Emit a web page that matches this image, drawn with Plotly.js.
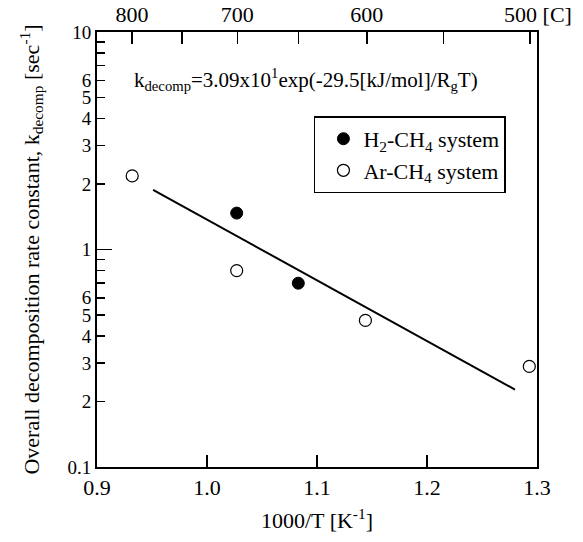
<!DOCTYPE html>
<html>
<head>
<meta charset="utf-8">
<script src="https://cdn.plot.ly/plotly-3.0.1.min.js"></script>
<style>html,body{margin:0;padding:0;background:#fff;}#plot{width:583px;height:542px;}</style>
</head>
<body>
<div id="plot"></div>
<script>
// Data
const h2X = [1.027, 1.083];
const h2Y = [1.47, 0.70];
const arX = [0.932, 1.027, 1.144, 1.293];
const arY = [2.18, 0.80, 0.472, 0.29];
const fitX = [0.951, 1.280];
const fitY = [1.88, 0.227];

const bottomTickVals = [0.9, 1.0, 1.1, 1.2, 1.3];
const bottomTickText = ['0.9', '1.0', '1.1', '1.2', '1.3'];
const leftTickVals = [0.1,0.2,0.3,0.4,0.5,0.6,0.7,0.8,0.9,1,2,3,4,5,6,7,8,9,10];
const leftTickText = ['0.1','2','3','4','5','6','','','','1','2','3','4','5','6','','','','10'];
const tempC = [800, 750, 700, 650, 600, 550, 500];
const tempText = ['800', '', '700', '', '600', '', '\u00A0\u00A0\u00A0500 [C]'];

const topTickVals = tempC.map(t => 1000 / (t + 273.15));

const FONT = 'Liberation Serif, Times New Roman, serif';

const traces = [
  {x: fitX, y: fitY, mode: 'lines', line: {color: '#000', width: 2}, showlegend: false, hoverinfo: 'skip'},
  {x: h2X, y: h2Y, mode: 'markers', name: 'H<sub>2</sub>-CH<sub>4</sub> system',
   marker: {symbol: 'circle', size: 12, color: '#000', line: {color: '#000', width: 1}}},
  {x: arX, y: arY, mode: 'markers', name: 'Ar-CH<sub>4</sub> system',
   marker: {symbol: 'circle-open', size: 12, color: '#000', line: {color: '#000', width: 1.2}}},
  {x: [], y: [], xaxis: 'x2', yaxis: 'y2', showlegend: false, hoverinfo: 'skip'}
];

const layout = {
  width: 583, height: 542,
  margin: {l: 97, r: 46, t: 32, b: 75},
  paper_bgcolor: '#fff', plot_bgcolor: '#fff',
  font: {family: FONT, size: 22, color: '#000'},
  showlegend: true,
  legend: {
    x: 0.493, y: 0.806, xanchor: 'left', yanchor: 'top',
    bordercolor: '#000', borderwidth: 1.5, bgcolor: '#fff',
    font: {family: FONT, size: 22, color: '#000'},
    indentation: 8,
    tracegroupgap: 0
  },
  xaxis: {
    range: [0.9, 1.3], showgrid: false, zeroline: false,
    showline: true, linecolor: '#000', linewidth: 2, mirror: true,
    ticks: 'inside', ticklen: 12, tickwidth: 1.5, tickcolor: '#000',
    tickmode: 'array', tickvals: bottomTickVals, ticktext: bottomTickText,
    tickfont: {family: FONT, size: 22},
    title: {text: '1000/T [K<sup>-1</sup>]', font: {family: FONT, size: 22}, standoff: 13}
  },
  xaxis2: {
    overlaying: 'x', side: 'top', range: [0.9, 1.3], showgrid: false, zeroline: false,
    showline: true, linecolor: '#000', linewidth: 1.5,
    ticks: 'inside', ticklen: 12, tickwidth: 1.5, tickcolor: '#000',
    tickmode: 'array', tickvals: topTickVals, ticktext: tempText,
    tickfont: {family: FONT, size: 22}
  },
  yaxis: {
    type: 'log', range: [-1, 1], showgrid: false, zeroline: false,
    showline: true, linecolor: '#000', linewidth: 2, mirror: true,
    ticks: 'inside', ticklen: 8, tickwidth: 1.5, tickcolor: '#000',
    tickmode: 'array', tickvals: leftTickVals, ticktext: leftTickText,
    tickfont: {family: FONT, size: 19},
    title: {text: 'Overall decomposition rate constant, k<sub>decomp</sub> [sec<sup>-1</sup>]', font: {family: FONT, size: 22}, standoff: 22}
  },
  yaxis2: {
    overlaying: 'y', side: 'left', type: 'log', range: [-1, 1], showgrid: false, zeroline: false,
    showline: false, ticks: 'inside', ticklen: 15, tickwidth: 1.5, tickcolor: '#000',
    tickmode: 'array', tickvals: [0.1, 1, 10], showticklabels: false
  },
  annotations: [{
    xref: 'paper', yref: 'paper', x: 0.474, y: 0.89, xanchor: 'center', yanchor: 'middle',
    text: 'k<sub>decomp</sub>=3.09x10<sup>1</sup>exp(-29.5[kJ/mol]/R<sub>g</sub>T)',
    showarrow: false, font: {family: FONT, size: 21, color: '#000'}
  }]
};

Plotly.newPlot('plot', traces, layout, {displayModeBar: false, staticPlot: true});
</script>
</body>
</html>
